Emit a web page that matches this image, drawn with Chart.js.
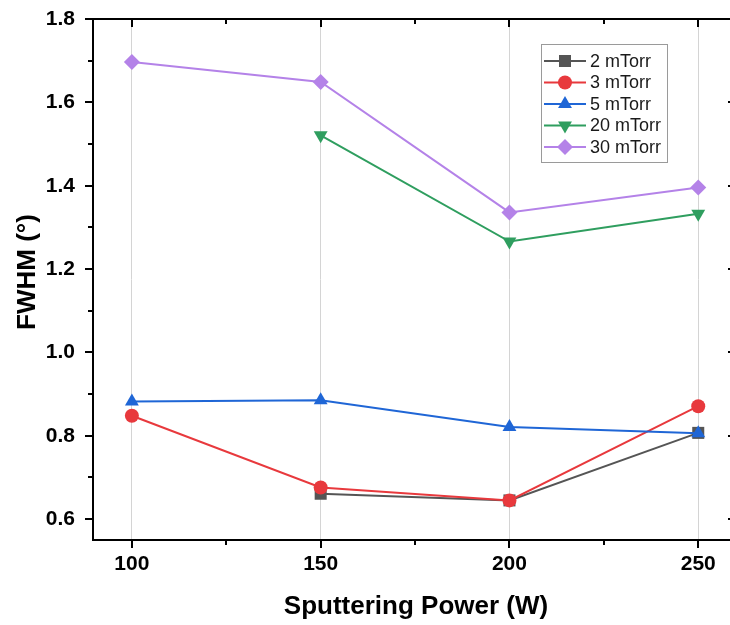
<!DOCTYPE html>
<html>
<head>
<meta charset="utf-8">
<script src="https://cdn.jsdelivr.net/npm/chart.js@4.4.1/dist/chart.umd.min.js"></script>
<style>
    html, body { margin: 0; padding: 0; background: #fff; overflow: hidden; }
    #wrap { width: 750px; height: 625px; }
</style>
</head>
<body>
<div id="wrap"><canvas id="chart" width="750" height="625"></canvas></div>
<script>
// Datos
const powers = [100, 150, 200, 250];
const seriesNames = ['2 mTorr', '3 mTorr', '5 mTorr', '20 mTorr', '30 mTorr'];
const fwhm2 = [null, 0.661, 0.645, 0.807];
const fwhm3 = [0.848, 0.676, 0.645, 0.871];
const fwhm5 = [0.882, 0.885, 0.821, 0.806];
const fwhm20 = [null, 1.521, 1.266, 1.333];
const fwhm30 = [1.697, 1.649, 1.336, 1.396];
const xTicks = [100, 150, 200, 250];
const xMinorTicks = [125, 175, 225];
const yTicks = [0.6, 0.8, 1.0, 1.2, 1.4, 1.6, 1.8];
const yMinorTicks = [0.7, 0.9, 1.1, 1.3, 1.5, 1.7];

// Colores y marcadores
const COLORS = ['#555555', '#e8393d', '#1f66d6', '#2f9e5f', '#b482e8'];
const MARKERS = [
    { style: 'rect', radius: 8.5, rotation: 0 },
    { style: 'circle', radius: 7, rotation: 0 },
    { style: 'triangle', radius: 8, rotation: 0 },
    { style: 'triangle', radius: 8, rotation: 180 },
    { style: 'rectRot', radius: 8, rotation: 0 },
];
const allSeries = [fwhm2, fwhm3, fwhm5, fwhm20, fwhm30];

const FONT = '"Liberation Sans", Arial, sans-serif';

const datasets = allSeries.map((values, i) => ({
    label: seriesNames[i],
    data: powers.map((p, j) => ({ x: p, y: values[j] })),
    borderColor: COLORS[i],
    backgroundColor: COLORS[i],
    borderWidth: 2,
    pointStyle: MARKERS[i].style,
    pointRadius: MARKERS[i].radius,
    pointRotation: MARKERS[i].rotation,
    pointBorderWidth: 0,
    tension: 0,
    clip: false,
    order: allSeries.length - i,
}));

// Marco, ticks menores, títulos y leyenda
const framePlugin = {
    id: 'frame',
    afterDraw(chart) {
        const ctx = chart.ctx;
        const a = chart.chartArea;
        const xs = chart.scales.x;
        const ys = chart.scales.y;
        ctx.save();
        ctx.strokeStyle = '#000';
        ctx.lineWidth = 2;
        ctx.strokeRect(a.left, a.top, a.right - a.left, a.bottom - a.top);

        ctx.lineWidth = 2;
        ctx.beginPath();
        xTicks.concat(xMinorTicks).forEach(v => {
            const len = xTicks.includes(v) ? 8 : 5;
            const px = Math.round(xs.getPixelForValue(v));
            ctx.moveTo(px, a.bottom); ctx.lineTo(px, a.bottom + len);
            ctx.moveTo(px, a.top); ctx.lineTo(px, a.top + len);
        });
        yTicks.concat(yMinorTicks).forEach(v => {
            const len = yTicks.includes(v) ? 8 : 5;
            const py = Math.round(ys.getPixelForValue(v));
            ctx.moveTo(a.left, py); ctx.lineTo(a.left - len, py);
            ctx.moveTo(a.right, py); ctx.lineTo(a.right - len, py);
        });
        ctx.stroke();

        // Títulos de ejes
        ctx.fillStyle = '#000';
        ctx.font = 'bold 26px ' + FONT;
        ctx.textAlign = 'center';
        ctx.textBaseline = 'middle';
        ctx.fillText('Sputtering Power (W)', 416, 607);
        ctx.save();
        ctx.translate(28, 272);
        ctx.rotate(-Math.PI / 2);
        ctx.fillText('FWHM (°)', 0, 0);
        ctx.restore();

        // Leyenda
        const lx = 541.5, ly = 44.5, lw = 126, lh = 118;
        ctx.fillStyle = '#fff';
        ctx.fillRect(lx, ly, lw, lh);
        ctx.strokeStyle = '#9a9a9a';
        ctx.lineWidth = 1;
        ctx.strokeRect(lx, ly, lw, lh);
        ctx.font = '18px ' + FONT;
        ctx.textAlign = 'left';
        seriesNames.forEach((name, i) => {
            const y = 61 + i * 21.5;
            ctx.strokeStyle = COLORS[i];
            ctx.fillStyle = COLORS[i];
            ctx.lineWidth = 2;
            ctx.beginPath();
            ctx.moveTo(544, y); ctx.lineTo(586, y);
            ctx.stroke();
            Chart.helpers.drawPoint(ctx, {
                pointStyle: MARKERS[i].style,
                radius: MARKERS[i].radius,
                rotation: MARKERS[i].rotation,
                borderWidth: 0,
            }, 565, y);
            ctx.fillStyle = '#1a1a1a';
            ctx.fillText(name, 590, y + 1);
        });
        ctx.restore();
    }
};

new Chart(document.getElementById('chart'), {
    type: 'line',
    data: { datasets: datasets },
    options: {
        responsive: false,
        animation: false,
        layout: { padding: { top: 19, right: 14, left: 0, bottom: 0 } },
        plugins: {
            legend: { display: false },
            tooltip: { enabled: false },
        },
        scales: {
            x: {
                type: 'linear',
                min: 89.7,
                max: 260,
                afterBuildTicks: s => { s.ticks = xTicks.map(v => ({ value: v })); },
                afterFit: s => { s.height = 85; s.paddingLeft = 0; s.paddingRight = 0; },
                grid: { color: '#d4d4d4', lineWidth: 1, drawTicks: false },
                border: { display: false },
                ticks: {
                    color: '#000',
                    padding: 12,
                    font: { family: FONT, size: 21, weight: 'bold' },
                    maxRotation: 0,
                },
            },
            y: {
                type: 'linear',
                min: 0.55,
                max: 1.8,
                afterBuildTicks: s => { s.ticks = yTicks.map(v => ({ value: v })); },
                afterFit: s => { s.width = 93; s.paddingTop = 0; s.paddingBottom = 0; },
                grid: { display: false, drawTicks: false },
                border: { display: false },
                ticks: {
                    color: '#000',
                    padding: 18,
                    font: { family: FONT, size: 21, weight: 'bold' },
                    callback: v => v.toFixed(1),
                },
            },
        },
    },
    plugins: [framePlugin],
});
</script>
</body>
</html>
